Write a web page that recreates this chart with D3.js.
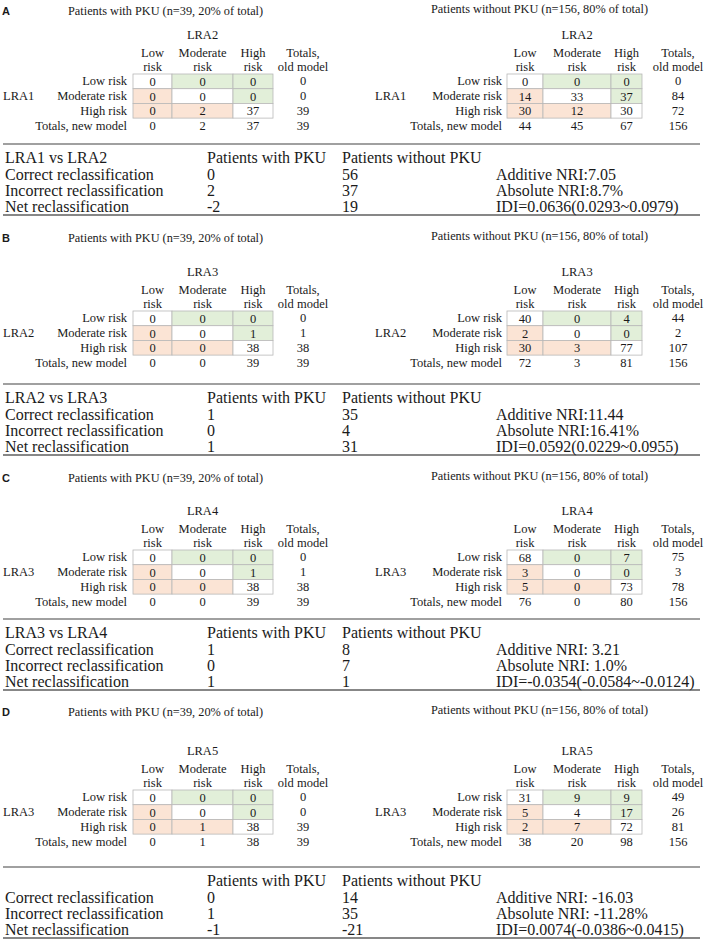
<!DOCTYPE html>
<html><head><meta charset="utf-8">
<script src="https://cdn.jsdelivr.net/npm/d3@7"></script>
<style>
body{margin:0;background:#fff;}
svg{display:block;}
</style></head>
<body>
<div id="chart"></div>
<script>
// ---------- data ----------
const panelLetters = ["A", "B", "C", "D"];
const oldModels = ["LRA1", "LRA2", "LRA3", "LRA3"];
const newModels = ["LRA2", "LRA3", "LRA4", "LRA5"];
const riskLevels = ["Low risk", "Moderate risk", "High risk"];
const colHeadTop = ["Low", "Moderate", "High", "Totals,"];
const colHeadBottom = ["risk", "risk", "risk", "old model"];
const pkuTitle = "Patients with PKU (n=39, 20% of total)";
const nonPkuTitle = "Patients without PKU (n=156, 80% of total)";
const pkuMatrices = [
  [[0,0,0],[0,0,0],[0,2,37]],
  [[0,0,0],[0,0,1],[0,0,38]],
  [[0,0,0],[0,0,1],[0,0,38]],
  [[0,0,0],[0,0,0],[0,1,38]]
];
const pkuRowTotals = [[0,0,39],[0,1,38],[0,1,38],[0,0,39]];
const pkuColTotals = [[0,2,37,39],[0,0,39,39],[0,0,39,39],[0,1,38,39]];
const nonPkuMatrices = [
  [[0,0,0],[14,33,37],[30,12,30]],
  [[40,0,4],[2,0,0],[30,3,77]],
  [[68,0,7],[3,0,0],[5,0,73]],
  [[31,9,9],[5,4,17],[2,7,72]]
];
const nonPkuRowTotals = [[0,84,72],[44,2,107],[75,3,78],[49,26,81]];
const nonPkuColTotals = [[44,45,67,156],[72,3,81,156],[76,0,80,156],[38,20,98,156]];
const compLabels = ["LRA1 vs LRA2", "LRA2 vs LRA3", "LRA3 vs LRA4", ""];
const summaryRows = ["Correct reclassification", "Incorrect reclassification", "Net reclassification"];
const pkuReclass = [[0,2,-2],[1,0,1],[1,0,1],[0,1,-1]];
const nonPkuReclass = [[56,37,19],[35,4,31],[8,7,1],[14,35,-21]];
const additiveNRI = ["Additive NRI:7.05", "Additive NRI:11.44", "Additive NRI: 3.21", "Additive NRI: -16.03"];
const absoluteNRI = ["Absolute NRI:8.7%", "Absolute NRI:16.41%", "Absolute NRI: 1.0%", "Absolute NRI: -11.28%"];
const idiValues = ["IDI=0.0636(0.0293~0.0979)", "IDI=0.0592(0.0229~0.0955)", "IDI=-0.0354(-0.0584~-0.0124)", "IDI=0.0074(-0.0386~0.0415)"];

// ---------- layout ----------
const W = 705, H = 945;
const titleY = [11, 238, 478, 712];
const gridTopY = [74, 311, 550, 790];
const sumTopY = [144, 384, 619, 867];
const SERIF = "'Liberation Serif', 'Times New Roman', 'DejaVu Serif', serif";
const SANS = "'Liberation Sans', Arial, sans-serif";

const svg = d3.select("#chart").append("svg").attr("width", W).attr("height", H)
  .attr("font-family", SERIF);

const GREEN = "#e2efd9", PEACH = "#fbe4d5", BORDER = "#b8b8b8", INK = "#1a1a1a";
const TFS = 12.3, FS = 12.5, SFS = 16;

function txt(g, x, y, s, size, anchor) {
  return g.append("text").attr("x", x).attr("y", y).attr("text-anchor", anchor || "start")
    .attr("dominant-baseline", "central").attr("font-size", size)
    .attr("font-family", SERIF).attr("fill", INK).text(s);
}

function drawMatrix(g, mat, rowTot, colTot, x, labelX, labelRight, oldName, newName, top) {
  const rowH = 14.7;
  const y = d3.scaleLinear().domain([0, 3]).range([top, top + 3 * rowH]);
  txt(g, x(1.5), top - 39, newName, FS, "middle");
  colHeadTop.forEach((t, j) => {
    txt(g, x(j + 0.5), top - 21, t, FS, "middle");
    txt(g, x(j + 0.5), top - 7.5, colHeadBottom[j], FS, "middle");
  });
  const cells = [];
  mat.forEach((r, i) => r.forEach((v, j) => cells.push({i, j, v})));
  g.selectAll(null).data(cells).enter().append("rect")
    .attr("x", d => x(d.j)).attr("y", d => y(d.i))
    .attr("width", d => x(d.j + 1) - x(d.j)).attr("height", d => y(d.i + 1) - y(d.i))
    .attr("fill", d => d.j > d.i ? GREEN : (d.j < d.i ? PEACH : "#fff"))
    .attr("stroke", BORDER).attr("stroke-width", 0.8);
  cells.forEach(d => txt(g, x(d.j + 0.5), y(d.i + 0.5) + 0.5, d.v, FS, "middle"));
  riskLevels.forEach((lab, i) => {
    txt(g, labelRight, y(i + 0.5), lab, FS, "end");
    txt(g, x(3.5), y(i + 0.5), rowTot[i], FS, "middle");
  });
  txt(g, labelX, y(1.5), oldName, FS, "start");
  const ty = y(3) + 7.5;
  txt(g, labelRight, ty, "Totals, new model", FS, "end");
  colTot.forEach((v, j) => txt(g, x(j + 0.5), ty, v, FS, "middle"));
}

const xLeft = d3.scaleLinear().domain([0, 1, 2, 3, 4]).range([133, 172, 233, 273, 333]);
const xRight = d3.scaleLinear().domain([0, 1, 2, 3, 4]).range([507, 543, 611, 642, 714]);
const sumX = d3.scaleOrdinal().domain([0, 1, 2, 3]).range([5, 207, 342, 496]);

panelLetters.forEach((p, k) => {
  const g = svg.append("g");
  g.append("text").attr("x", 2).attr("y", titleY[k]).attr("dominant-baseline", "central")
    .attr("font-family", SANS).attr("font-weight", "bold").attr("fill", INK)
    .attr("font-size", 11).text(p);
  txt(g, 68, titleY[k], pkuTitle, TFS);
  txt(g, 431, titleY[k] - 2, nonPkuTitle, TFS);

  drawMatrix(g, pkuMatrices[k], pkuRowTotals[k], pkuColTotals[k], xLeft, 3, 127, oldModels[k], newModels[k], gridTopY[k]);
  drawMatrix(g, nonPkuMatrices[k], nonPkuRowTotals[k], nonPkuColTotals[k], xRight, 375, 502, oldModels[k], newModels[k], gridTopY[k]);

  // summary table
  const top = sumTopY[k];
  const ry = d3.scaleLinear().domain([0, 1, 3]).range([top + 13.5, top + 30.5, top + 62]);
  const bot = top + 71;
  g.append("line").attr("x1", 3).attr("x2", 700).attr("y1", top).attr("y2", top)
    .attr("stroke", "#808080").attr("stroke-width", 1.5);
  g.append("line").attr("x1", 3).attr("x2", 700).attr("y1", bot).attr("y2", bot)
    .attr("stroke", "#111").attr("stroke-width", 1.2);
  const header = [compLabels[k], "Patients with PKU", "Patients without PKU"];
  header.forEach((t, j) => txt(g, sumX(j), ry(0), t, SFS));
  const extras = [additiveNRI[k], absoluteNRI[k], idiValues[k]];
  summaryRows.forEach((lab, i) => {
    const yy = ry(i + 1);
    txt(g, sumX(0), yy, lab, SFS);
    txt(g, sumX(1), yy, pkuReclass[k][i], SFS);
    txt(g, sumX(2), yy, nonPkuReclass[k][i], SFS);
    txt(g, sumX(3), yy, extras[i], SFS);
  });
});
</script>
</body></html>
